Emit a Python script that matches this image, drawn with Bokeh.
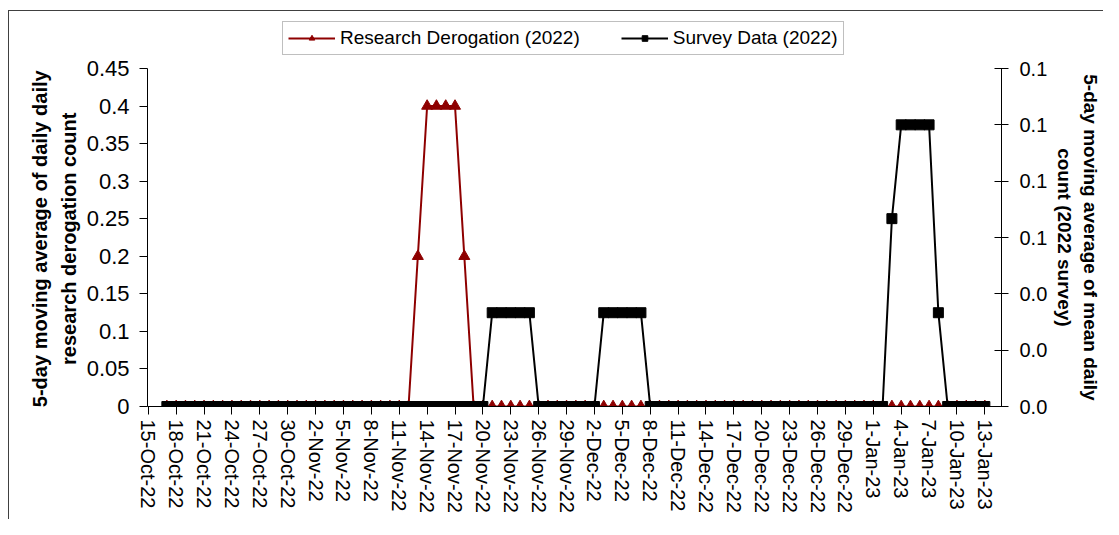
import pandas as pd
from bokeh.plotting import figure
from bokeh.models import (Range1d, LinearAxis, FixedTicker, NumeralTickFormatter,
                          CustomJSTickFormatter, Legend, LegendItem)
from bokeh.embed import file_html
from bokeh.resources import INLINE

# ---------------- data ----------------
first_day = "2022-10-17"
last_day = "2023-01-13"

# 5-day moving average of daily research derogation count (left axis)
research_derogation = [
    # 17-Oct .. 31-Oct
    0, 0, 0, 0, 0, 0, 0, 0, 0, 0, 0, 0, 0, 0, 0,
    # 1-Nov .. 30-Nov
    0, 0, 0, 0, 0, 0, 0, 0, 0, 0, 0, 0, 0.2, 0.4, 0.4, 0.4, 0.4, 0.2,
    0, 0, 0, 0, 0, 0, 0, 0, 0, 0, 0, 0,
    # 1-Dec .. 31-Dec
    0, 0, 0, 0, 0, 0, 0, 0, 0, 0, 0, 0, 0, 0, 0, 0, 0, 0, 0, 0, 0, 0, 0, 0,
    0, 0, 0, 0, 0, 0, 0,
    # 1-Jan .. 13-Jan
    0, 0, 0, 0, 0, 0, 0, 0, 0, 0, 0, 0, 0,
]

# 5-day moving average of mean daily count, 2022 survey (right axis)
survey_data = [
    # 17-Oct .. 31-Oct
    0, 0, 0, 0, 0, 0, 0, 0, 0, 0, 0, 0, 0, 0, 0,
    # 1-Nov .. 30-Nov
    0, 0, 0, 0, 0, 0, 0, 0, 0, 0, 0, 0, 0, 0, 0, 0, 0, 0, 0, 0,
    0.0333, 0.0333, 0.0333, 0.0333, 0.0333, 0, 0, 0, 0, 0,
    # 1-Dec .. 31-Dec
    0, 0, 0.0333, 0.0333, 0.0333, 0.0333, 0.0333, 0, 0, 0, 0, 0, 0, 0, 0, 0,
    0, 0, 0, 0, 0, 0, 0, 0, 0, 0, 0, 0, 0, 0, 0,
    # 1-Jan .. 13-Jan
    0, 0, 0.0667, 0.1, 0.1, 0.1, 0.1, 0.0333, 0, 0, 0, 0, 0,
]

tick_labels = [
    "15-Oct-22", "18-Oct-22", "21-Oct-22", "24-Oct-22", "27-Oct-22", "30-Oct-22",
    "2-Nov-22", "5-Nov-22", "8-Nov-22", "11-Nov-22", "14-Nov-22", "17-Nov-22",
    "20-Nov-22", "23-Nov-22", "26-Nov-22", "29-Nov-22", "2-Dec-22", "5-Dec-22",
    "8-Dec-22", "11-Dec-22", "14-Dec-22", "17-Dec-22", "20-Dec-22", "23-Dec-22",
    "26-Dec-22", "29-Dec-22", "1-Jan-23", "4-Jan-23", "7-Jan-23", "10-Jan-23",
    "13-Jan-23",
]

left_ticks = [0, 0.05, 0.1, 0.15, 0.2, 0.25, 0.3, 0.35, 0.4, 0.45]
right_ticks = [0, 0.02, 0.04, 0.06, 0.08, 0.1, 0.12]
left_max = 0.45
right_max = 0.12

series_names = ["Research Derogation (2022)", "Survey Data (2022)"]
left_title_lines = ["5-day moving average of daily daily", "research derogation count"]
right_title_lines = ["5-day moving average of mean daily", "count (2022 survey)"]

# ---------------- build ----------------
dates = pd.date_range(first_day, last_day, freq="D")
tick_dates = pd.to_datetime(tick_labels, format="%d-%b-%y")
tick_ms = [int(d.value // 10**6) for d in tick_dates]

RED = "#8e0000"
FONT = "Liberation Sans"
PAD = "\u00a0" * 10   # keeps the axis titles centred on the 0..max part of the axes

# frame runs from y=15 to y=406 px; the 0..max part of the axes uses the lowest 338 px
head = 391 / 338

p = figure(width=1103, height=519, output_backend="svg", toolbar_location=None,
           x_axis_type="datetime",
           x_range=Range1d(pd.Timestamp("2022-10-14 22:00"), pd.Timestamp("2023-01-14 19:00")),
           y_range=Range1d(0, left_max * head),
           min_border_left=147, min_border_right=102, min_border_top=15, min_border_bottom=113)
p.extra_y_ranges = {"survey": Range1d(0, right_max * head)}
p.outline_line_color = None
p.xgrid.visible = False
p.ygrid.visible = False
p.background_fill_color = "white"
p.border_fill_color = None
p.styles = {"box-shadow": "inset 8px 10px 0 0 white, inset 9px 11px 0 0 #404040"}

r_line = p.line(dates, research_derogation, line_color=RED, line_width=2)
r_pts = p.scatter(dates, research_derogation, marker="triangle", size=11,
                  fill_color=RED, line_color=RED)
s_line = p.line(dates, survey_data, line_color="black", line_width=2, y_range_name="survey")
s_pts = p.scatter(dates, survey_data, marker="square", size=10,
                  fill_color="black", line_color="black", y_range_name="survey")

# x axis
xa = p.xaxis[0]
xa.ticker = FixedTicker(ticks=tick_ms)
xa.formatter = CustomJSTickFormatter(args=dict(tvals=tick_ms, tlabs=tick_labels),
                                     code="const i = tvals.indexOf(tick); return i < 0 ? '' : tlabs[i];")
xa.major_label_orientation = -1.5707963
xa.major_label_text_font = FONT
xa.major_label_text_font_size = "20px"
xa.major_label_text_color = "black"
xa.major_tick_out = 8
xa.major_tick_in = 0
xa.minor_tick_out = 0
xa.minor_tick_in = 0
xa.major_label_standoff = 5
xa.axis_line_color = "black"

# left axis
ya = p.yaxis[0]
ya.ticker = FixedTicker(ticks=left_ticks)
ya.formatter = NumeralTickFormatter(format="0.[00]")
ya.bounds = (0, left_max)
ya.major_label_text_font = FONT
ya.major_label_text_font_size = "22px"
ya.major_label_text_color = "black"
ya.major_tick_out = 8
ya.major_tick_in = 0
ya.minor_tick_out = 0
ya.minor_tick_in = 0
ya.major_label_standoff = 10
ya.axis_label = "\n".join(line + PAD for line in left_title_lines)
ya.axis_label_text_font = FONT
ya.axis_label_text_font_style = "bold"
ya.axis_label_text_font_size = "20px"
ya.axis_label_text_line_height = 1.3
ya.axis_label_text_color = "black"
ya.axis_label_standoff = 4

# right axis
ra = LinearAxis(y_range_name="survey", ticker=FixedTicker(ticks=right_ticks),
                formatter=NumeralTickFormatter(format="0.0"), bounds=(0, right_max))
ra.major_label_text_font = FONT
ra.major_label_text_font_size = "20px"
ra.major_label_text_color = "black"
ra.major_tick_out = 7
ra.major_tick_in = 7
ra.minor_tick_out = 0
ra.minor_tick_in = 0
ra.major_label_standoff = 11
ra.axis_label = "\n".join(PAD + line for line in right_title_lines)
ra.axis_label_text_font = FONT
ra.axis_label_text_font_style = "bold"
ra.axis_label_text_font_size = "19px"
ra.axis_label_text_line_height = 1.2
ra.axis_label_text_color = "black"
ra.axis_label_standoff = 4
p.add_layout(ra, "right")

legend = Legend(items=[LegendItem(label=series_names[0], renderers=[r_line, r_pts]),
                       LegendItem(label=series_names[1], renderers=[s_line, s_pts])],
                orientation="horizontal", location=(135, 351),
                label_text_font=FONT, label_text_font_size="19px", label_text_color="black",
                glyph_width=47, glyph_height=14, label_height=14, label_standoff=5,
                spacing=41, padding=5, margin=0,
                border_line_color="#7f7f7f", border_line_width=1.5,
                background_fill_color="white")
p.add_layout(legend, "center")

open("out.html", "w").write(file_html(p, INLINE))
